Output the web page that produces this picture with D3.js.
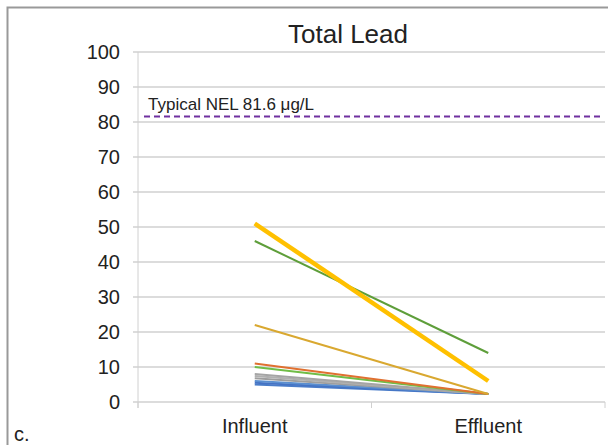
<!DOCTYPE html>
<html>
<head>
<meta charset="utf-8">
<script src="https://cdn.jsdelivr.net/npm/d3@7"></script>
<style>
  body { margin: 0; background: #fff; }
  text { font-family: "Liberation Sans", Arial, sans-serif; fill: #222; }
</style>
</head>
<body>
<svg width="608" height="445"></svg>
<script>
// Data
const categories = ["Influent", "Effluent"];
const influent = [51, 46, 22, 11, 10, 8, 7.4, 6.8, 6, 5.5, 5];
const effluent = [6, 14, 2.3, 2.3, 2.3, 2.3, 2.3, 2.3, 2.3, 2.3, 2.3];
const seriesColors = ["#FFC000", "#5E9E3A", "#D9A830", "#E07030", "#70BD47",
                      "#A5A5A5", "#B0B0B0", "#9E9E9E", "#5B8FD0", "#4472C4", "#4A7CC8"];
const yTicks = [0, 10, 20, 30, 40, 50, 60, 70, 80, 90, 100];
const nel = 81.6;

const svg = d3.select("svg");

// outer frame
svg.append("path")
    .attr("d", "M7.5,445 V7.5 H608")
    .attr("fill", "none")
    .attr("stroke", "#999")
    .attr("stroke-width", 2);

// Scales
const x = d3.scaleBand().domain(categories).range([138, 605]);
const y = d3.scaleLinear().domain([0, 100]).range([402, 52]);

// Gridlines
svg.append("g")
    .selectAll("line")
    .data(yTicks)
    .enter()
    .append("line")
    .attr("x1", 133).attr("x2", 605)
    .attr("y1", d => y(d)).attr("y2", d => y(d))
    .attr("stroke", "#d0d0d0")
    .attr("stroke-width", 1.3);

// Y axis labels
svg.append("g")
    .selectAll("text")
    .data(yTicks)
    .enter()
    .append("text")
    .attr("x", 120)
    .attr("y", d => y(d) + 7)
    .attr("text-anchor", "end")
    .attr("font-size", 20)
    .text(d => d);

// left axis line + category ticks
svg.append("line")
    .attr("x1", 138).attr("x2", 138)
    .attr("y1", 52).attr("y2", 408)
    .attr("stroke", "#d0d0d0").attr("stroke-width", 1);
[x.range()[0], x.range()[0] + x.bandwidth(), x.range()[1]].forEach(t => {
    svg.append("line")
        .attr("x1", t).attr("x2", t)
        .attr("y1", 402).attr("y2", 408)
        .attr("stroke", "#d0d0d0").attr("stroke-width", 1);
});

// Category labels
svg.append("g")
    .selectAll("text")
    .data(categories)
    .enter()
    .append("text")
    .attr("x", d => x(d) + x.bandwidth() / 2)
    .attr("y", 433)
    .attr("text-anchor", "middle")
    .attr("font-size", 20)
    .text(d => d);

// NEL line
svg.append("line")
    .attr("x1", 144).attr("x2", 600)
    .attr("y1", y(nel)).attr("y2", y(nel))
    .attr("stroke", "#7030A0")
    .attr("stroke-width", 2)
    .attr("stroke-dasharray", "6,4");

svg.append("text")
    .attr("x", 148)
    .attr("y", y(nel) - 6)
    .attr("font-size", 17)
    .text("Typical NEL 81.6 μg/L");

// Series lines (draw thin ones first, thick yellow on top)
const series = influent.map((v, i) => ({ a: v, b: effluent[i], color: seriesColors[i], i: i }));
const cx = d => x(d) + x.bandwidth() / 2;
svg.append("g")
    .selectAll("line")
    .data(series.slice().reverse())
    .enter()
    .append("line")
    .attr("x1", cx("Influent"))
    .attr("x2", cx("Effluent"))
    .attr("y1", d => y(d.a))
    .attr("y2", d => y(d.b))
    .attr("stroke", d => d.color)
    .attr("stroke-width", d => d.i === 0 ? 4.5 : 2);

// Title
svg.append("text")
    .attr("x", 348)
    .attr("y", 43)
    .attr("text-anchor", "middle")
    .attr("font-size", 26)
    .text("Total Lead");

svg.append("text")
    .attr("x", 14)
    .attr("y", 441)
    .attr("font-size", 20)
    .text("c.");
</script>
</body>
</html>
